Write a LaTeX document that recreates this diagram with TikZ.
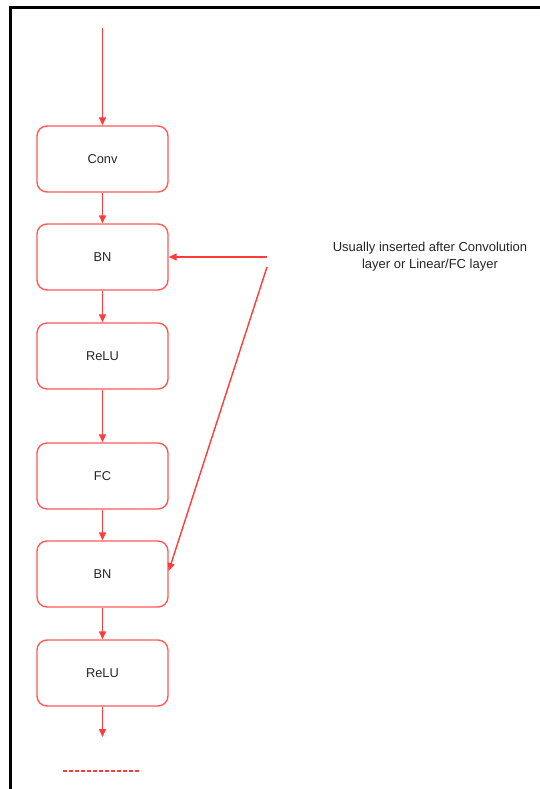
\documentclass[tikz,border=0pt]{standalone}
\usepackage{fontspec}
\setmainfont{Liberation Sans}
\usetikzlibrary{arrows.meta}
\definecolor{lred}{HTML}{FF5A5A}
\definecolor{ared}{HTML}{FF3B3B}
\begin{document}
\begin{tikzpicture}[x=1pt,y=-1pt,
  layer/.style={draw=lred,line width=1.4pt,rounded corners=10pt,minimum width=131pt,minimum height=66pt,inner sep=0pt,font=\fontsize{12.8}{15}\selectfont,text=black!85},
  arr/.style={draw=ared,line width=1.4pt,-{Triangle[length=8pt,width=7pt]}},
  note/.style={align=center,font=\fontsize{13}{17}\selectfont,text=black!85}]
\useasboundingbox (0,0) rectangle (540,789);
\fill[white] (0,0) rectangle (540,789);
\draw[black,line width=3pt] (10.5,789) -- (10.5,7.5) -- (540,7.5);
\node[layer] (conv) at (102.5,159) {Conv};
\node[layer] (bn1) at (102.5,257) {BN};
\node[layer] (relu1) at (102.5,356) {ReLU};
\node[layer] (fc) at (102.5,476) {FC};
\node[layer] (bn2) at (102.5,574) {BN};
\node[layer] (relu2) at (102.5,673) {ReLU};
\coordinate (start) at (102.5,28);
\coordinate (end) at (102.5,737);
\coordinate (sa) at (267,257);
\coordinate (sb) at (267,267);
\coordinate (da) at (63,771);
\coordinate (db) at (141,771);
\draw[arr] (start) -- (conv);
\draw[arr] (conv) -- (bn1);
\draw[arr] (bn1) -- (relu1);
\draw[arr] (relu1) -- (fc);
\draw[arr] (fc) -- (bn2);
\draw[arr] (bn2) -- (relu2);
\draw[arr] (relu2) -- (end);
\draw[arr] (sa) -- (bn1.east);
\draw[arr] (sb) -- ([yshift=3pt]bn2.east);
\draw[ared,line width=1.1pt,dash pattern=on 3.5pt off 2.5pt] (da) -- (db);
\node[note] (txt) at (430,257) {Usually inserted after Convolution\\layer or Linear/FC layer};
\end{tikzpicture}
\end{document}
